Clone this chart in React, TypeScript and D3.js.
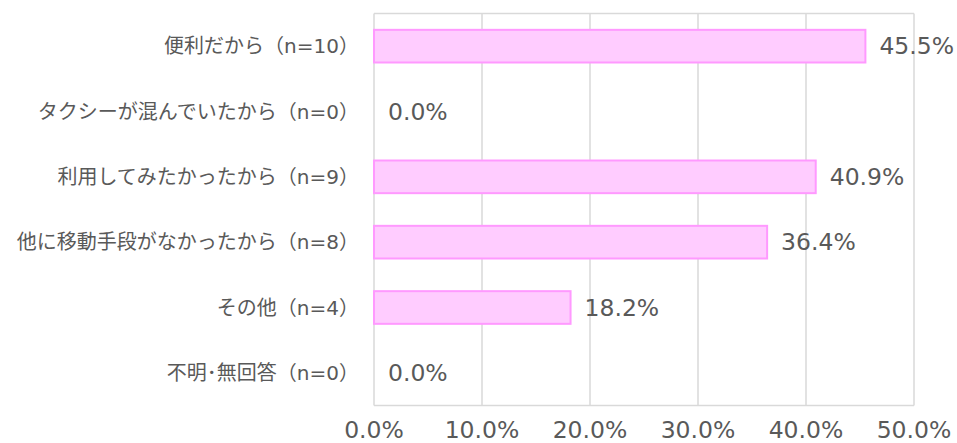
import React from "react";
import * as d3 from "d3";

const categories = [
  "便利だから（n=10）",
  "タクシーが混んでいたから（n=0）",
  "利用してみたかったから（n=9）",
  "他に移動手段がなかったから（n=8）",
  "その他（n=4）",
  "不明･無回答（n=0）",
];
const values = [45.5, 0.0, 40.9, 36.4, 18.2, 0.0];
const ticks = [0, 10, 20, 30, 40, 50];

const W = 957;
const H = 443;
const left = 374;
const right = 914;
const top = 13.5;
const bottom = 405.5;
const textColor = "#595959";
const gridColor = "#d9d9d9";
const font = "'DejaVu Sans', 'Noto Sans CJK JP', sans-serif";

export default function App() {
  const x = d3.scaleLinear().domain([0, 50]).range([left, right]);
  const y = d3
    .scaleBand<string>()
    .domain(categories)
    .range([top, bottom])
    .paddingInner(0.5)
    .paddingOuter(0.25);

  return (
    <div style={{ position: "absolute", left: 0, top: 0 }}>
      <svg width={W} height={H} style={{ display: "block", fontFamily: font }}>
        <rect x={0} y={0} width={W} height={H} fill="#ffffff" />
        {ticks.map((t) => (
          <line
            key={"g" + t}
            x1={x(t)}
            x2={x(t)}
            y1={top}
            y2={bottom}
            stroke={gridColor}
            strokeWidth={1.5}
          />
        ))}
        <line x1={left} x2={right} y1={top} y2={top} stroke={gridColor} strokeWidth={1.5} />
        <line x1={left} x2={right} y1={bottom} y2={bottom} stroke={gridColor} strokeWidth={1.5} />
        {categories.map((c, i) => {
          const yy = y(c)!;
          const bw = y.bandwidth();
          const cy = yy + bw / 2;
          return (
            <g key={c}>
              {values[i] > 0 && (
                <rect
                  x={x(0)}
                  y={yy}
                  width={x(values[i]) - x(0)}
                  height={bw}
                  fill="#ffccff"
                  stroke="#ff99ff"
                  strokeWidth={2}
                />
              )}
              <text
                x={left - 15}
                y={cy}
                textAnchor="end"
                dominantBaseline="central"
                fontSize={20}
                fill={textColor}
              >
                {c}
              </text>
              <text
                x={x(values[i]) + 14}
                y={cy}
                textAnchor="start"
                dominantBaseline="central"
                fontSize={23.5}
                fill={textColor}
              >
                {values[i].toFixed(1) + "%"}
              </text>
            </g>
          );
        })}
        {ticks.map((t) => (
          <text
            key={"t" + t}
            x={x(t)}
            y={430}
            textAnchor="middle"
            dominantBaseline="central"
            fontSize={23.5}
            fill={textColor}
          >
            {t.toFixed(1) + "%"}
          </text>
        ))}
      </svg>
    </div>
  );
}
